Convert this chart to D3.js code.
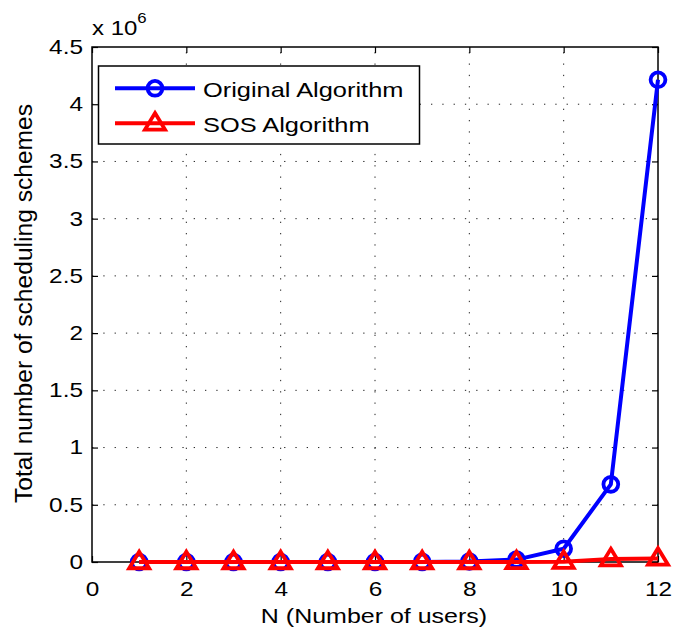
<!DOCTYPE html>
<html>
<head>
<meta charset="utf-8">
<script src="https://cdn.jsdelivr.net/npm/d3@7"></script>
<style>
  html, body { margin: 0; padding: 0; background: #fff; }
  svg { display: block; font-family: "Liberation Sans", Arial, Helvetica, sans-serif; }
  text { fill: #000; }
</style>
</head>
<body>
<svg id="chart" width="673" height="631"></svg>
<script>
// Number of users
const users = [1, 2, 3, 4, 5, 6, 7, 8, 9, 10, 11, 12];
// Total number of scheduling schemes, exhaustive search
const originalSchemes = [1, 2, 5, 15, 52, 203, 877, 4140, 21147, 115975, 678570, 4213597];
// Total number of scheduling schemes, SOS
const sosSchemes = [1, 2, 4, 8, 16, 40, 90, 200, 600, 3000, 26000, 31000];
// Axis ticks
const xTicks = [0, 2, 4, 6, 8, 10, 12];
const yTicks = [0, 0.5, 1, 1.5, 2, 2.5, 3, 3.5, 4, 4.5];
const seriesNames = ["Original Algorithm", "SOS Algorithm"];

const svg = d3.select("#chart");
const W = 673, H = 631;
const margin = { left: 92, top: 47, right: W - 658, bottom: H - 562 };

const x = d3.scaleLinear().domain([0, 12]).range([margin.left, W - margin.right]);
const y = d3.scaleLinear().domain([0, 4.5e6]).range([H - margin.bottom, margin.top]);

// Stretch text horizontally around its own anchor
function widen(sel, k) {
  sel.each(function () {
    const t = d3.select(this);
    const x0 = +t.attr("x") || 0;
    t.attr("x", x0 / k).attr("transform", `scale(${k},1)`);
  });
}

const g = svg.append("g");

// Dotted grid
const grid = g.append("g").attr("stroke", "#222").attr("stroke-width", 1)
  .attr("stroke-dasharray", "1.3,10");
xTicks.filter(t => t > 0 && t < 12).forEach(t => {
  grid.append("line").attr("x1", x(t)).attr("x2", x(t))
    .attr("y1", y(0)).attr("y2", y(4.5e6));
});
yTicks.filter(t => t > 0 && t < 4.5).forEach(t => {
  grid.append("line").attr("x1", x(0)).attr("x2", x(12))
    .attr("y1", y(t * 1e6)).attr("y2", y(t * 1e6));
});

// Axes (ticks point inward, on all four sides)
const yVals = yTicks.map(v => v * 1e6);
const xa = g.append("g").attr("transform", `translate(0,${y(0)})`)
  .call(d3.axisBottom(x).tickValues(xTicks).tickSize(-6).tickPadding(20).tickFormat(d3.format("d")));
const ya = g.append("g").attr("transform", `translate(${x(0)},0)`)
  .call(d3.axisLeft(y).tickValues(yVals).tickSize(-6).tickPadding(9).tickFormat(v => String(v / 1e6)));
const xaTop = g.append("g").attr("transform", `translate(0,${y(4.5e6)})`)
  .call(d3.axisTop(x).tickValues(xTicks).tickSize(-6).tickFormat(""));
const yaRight = g.append("g").attr("transform", `translate(${x(12)},0)`)
  .call(d3.axisRight(y).tickValues(yVals).tickSize(-6).tickFormat(""));
[xa, ya, xaTop, yaRight].forEach(a => {
  a.select(".domain").remove();
  a.selectAll("line").attr("stroke", "#000").attr("stroke-width", 1.2);
  a.selectAll("text").attr("fill", "#000").style("font-size", "20px")
    .style("font-family", "'Liberation Sans', Arial, sans-serif");
});
widen(xa.selectAll("text"), 1.22);
widen(ya.selectAll("text"), 1.22);

// Box
g.append("rect").attr("x", x(0)).attr("y", y(4.5e6))
  .attr("width", x(12) - x(0)).attr("height", y(0) - y(4.5e6))
  .attr("fill", "none").attr("stroke", "#000").attr("stroke-width", 1.5);

// Series
const line = d3.line().x((d, i) => x(users[i])).y(d => y(d));
const series = [
  { name: seriesNames[0], values: originalSchemes, color: "#0000ff", marker: "circle" },
  { name: seriesNames[1], values: sosSchemes, color: "#ff0000", marker: "triangle" }
];

const triPath = (s, h) => `M0,${-h * 0.62}L${s / 2},${h * 0.38}L${-s / 2},${h * 0.38}Z`;

function drawMarker(parent, kind, cx, cy, color) {
  if (kind === "circle") {
    parent.append("circle").attr("cx", cx).attr("cy", cy).attr("r", 7.4)
      .attr("fill", "none").attr("stroke", color).attr("stroke-width", 3.8);
  } else {
    parent.append("path").attr("d", triPath(20, 16.5))
      .attr("transform", `translate(${cx},${cy})`)
      .attr("fill", "none").attr("stroke", color).attr("stroke-width", 3.8)
      .attr("stroke-linejoin", "miter");
  }
}

series.forEach(s => {
  g.append("path").datum(s.values).attr("d", line)
    .attr("fill", "none").attr("stroke", s.color).attr("stroke-width", 4)
    .attr("stroke-linejoin", "round");
  const m = g.append("g");
  s.values.forEach((v, i) => drawMarker(m, s.marker, x(users[i]), y(v), s.color));
});

// Axis labels
const xl = g.append("text").attr("x", (x(0) + x(12)) / 2 - 1).attr("y", 623)
  .attr("text-anchor", "middle").style("font-size", "21px").text("N (Number of users)");
widen(xl, 1.19);
g.append("text").attr("transform", `translate(32,${(y(0) + y(4.5e6)) / 2 - 1}) rotate(-90)`)
  .attr("text-anchor", "middle").style("font-size", "24.6px").text("Total number of scheduling schemes");

// Exponent label
const ex = g.append("text").attr("x", 92).attr("y", 35).style("font-size", "20px");
ex.append("tspan").text("x 10");
ex.append("tspan").attr("dy", -12).style("font-size", "14px").text("6");
widen(ex, 1.2);

// Legend
const lg = g.append("g");
lg.append("rect").attr("x", 98.5).attr("y", 66).attr("width", 321).attr("height", 78)
  .attr("fill", "#fff").attr("stroke", "#000").attr("stroke-width", 1.5);
series.forEach((s, i) => {
  const cy = 88.3 + i * 35;
  lg.append("line").attr("x1", 115).attr("x2", 195).attr("y1", cy).attr("y2", cy)
    .attr("stroke", s.color).attr("stroke-width", 4);
  drawMarker(lg, s.marker, 155, cy, s.color);
  const t = lg.append("text").attr("x", 203).attr("y", cy + 9).style("font-size", "21px").text(s.name);
  widen(t, 1.21);
});
</script>
</body>
</html>
